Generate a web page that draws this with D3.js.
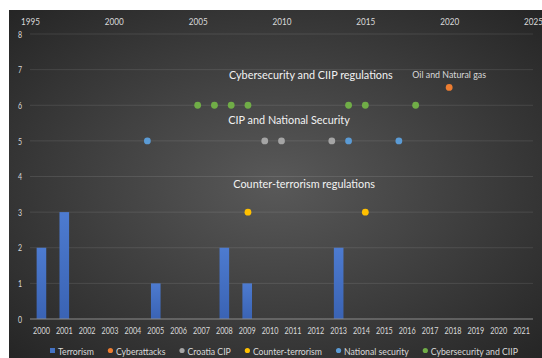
<!DOCTYPE html>
<html>
<head>
<meta charset="utf-8">
<script src="https://cdn.jsdelivr.net/npm/d3@7"></script>
<style>
  html, body { margin: 0; padding: 0; background: #ffffff; }
  svg { display: block; font-family: Lato, "Open Sans", sans-serif; }
</style>
</head>
<body>
<svg id="chart" width="542" height="358"></svg>
<script>
// ---- data ----
const years = ["2000","2001","2002","2003","2004","2005","2006","2007","2008","2009","2010",
               "2011","2012","2013","2014","2015","2016","2017","2018","2019","2020","2021"];
const terrorism = [2,3,0,0,0,1,0,0,2,1,0,0,0,2,0,0,0,0,0,0,0,0];

// point series placed on the secondary (top) year axis
const cyberattacksYears = [2020];
const cyberattacksLevel = [6.5];
const croatiaCipYears = [2009, 2010, 2013];
const croatiaCipLevel = [5, 5, 5];
const counterTerrorismYears = [2008, 2015];
const counterTerrorismLevel = [3, 3];
const nationalSecurityYears = [2002, 2014, 2017];
const nationalSecurityLevel = [5, 5, 5];
const cyberCiipYears = [2005, 2006, 2007, 2008, 2014, 2015, 2018];
const cyberCiipLevel = [6, 6, 6, 6, 6, 6, 6];

const topTicks = [1995, 2000, 2005, 2010, 2015, 2020, 2025];
const yTicks = [0, 1, 2, 3, 4, 5, 6, 7, 8];

const seriesNames = ["Terrorism", "Cyberattacks", "Croatia CIP", "Counter-terrorism",
                     "National security", "Cybersecurity and CIIP"];

const annotationText = ["Cybersecurity and CIIP regulations", "CIP and National Security",
                        "Counter-terrorism regulations", "Oil and Natural gas"];

// ---- style / layout ----
const colors = {
  "Terrorism": "#4472C4",
  "Cyberattacks": "#ED7D31",
  "Croatia CIP": "#A5A5A5",
  "Counter-terrorism": "#FFC000",
  "National security": "#5B9BD5",
  "Cybersecurity and CIIP": "#70AD47"
};
const W = 542, H = 358;
const plot = { left: 30, right: 533, top: 34, bottom: 319 };
const textColor = "#d9d9d9";

const svg = d3.select("#chart");
const defs = svg.append("defs");

const bg = defs.append("radialGradient").attr("id", "bg")
  .attr("cx", "50%").attr("cy", "50%").attr("r", "72%");
bg.append("stop").attr("offset", "0%").attr("stop-color", "#595959");
bg.append("stop").attr("offset", "100%").attr("stop-color", "#242424");

const barGrad = defs.append("linearGradient").attr("id", "barGrad")
  .attr("x1", 0).attr("y1", 0).attr("x2", 0).attr("y2", 1);
barGrad.append("stop").attr("offset", "0%").attr("stop-color", "#4d7bd0");
barGrad.append("stop").attr("offset", "100%").attr("stop-color", "#3a63b4");

svg.append("rect").attr("x", 9).attr("y", 10).attr("width", W - 9).attr("height", H - 10)
  .attr("fill", "url(#bg)");

// ---- scales ----
const x = d3.scaleBand().domain(years).range([plot.left, plot.right])
  .paddingInner(0.58).paddingOuter(0.29);
const x2 = d3.scaleLinear().domain([1995, 2025]).range([plot.left, plot.right]);
const y = d3.scaleLinear().domain([0, 8]).range([plot.bottom, plot.top]);

// ---- gridlines ----
svg.append("g").selectAll("line").data(yTicks.filter(d => d > 0)).join("line")
  .attr("x1", plot.left).attr("x2", plot.right)
  .attr("y1", d => y(d)).attr("y2", d => y(d))
  .attr("stroke", "#ffffff").attr("stroke-opacity", 0.1).attr("stroke-width", 1);

// ---- bars ----
svg.append("g").selectAll("rect").data(years.map((yr, i) => ({ yr, v: terrorism[i] })).filter(d => d.v > 0))
  .join("rect")
  .attr("x", d => x(d.yr)).attr("width", x.bandwidth())
  .attr("y", d => y(d.v)).attr("height", d => y(0) - y(d.v))
  .attr("fill", "url(#barGrad)");

// zero line
svg.append("line").attr("x1", plot.left).attr("x2", plot.right)
  .attr("y1", y(0)).attr("y2", y(0))
  .attr("stroke", "#8c8c8c").attr("stroke-width", 1.2);

// ---- axes ----
const sqDigits = 0.74;   // narrow digit style
const sqTop = 0.86;
const sqText = 0.92;
const sqLegend = 0.87;

const bottomAxis = svg.append("g").attr("transform", `translate(0,${y(0)})`)
  .call(d3.axisBottom(x).tickSize(0));
bottomAxis.select(".domain").remove();
bottomAxis.selectAll("text").attr("y", 15).attr("dy", null)
  .attr("fill", textColor).attr("font-size", 9.8).attr("font-family", "Lato")
  .attr("transform", `scale(${sqDigits},1)`);

const topAxis = svg.append("g").attr("transform", `translate(0,${plot.top})`)
  .call(d3.axisTop(x2).tickValues(topTicks).tickFormat(d3.format("d")).tickSize(0));
topAxis.select(".domain").remove();
topAxis.selectAll("text").attr("y", -9).attr("dy", null)
  .attr("fill", textColor).attr("font-size", 9.5).attr("font-family", "Lato")
  .attr("transform", `scale(${sqTop},1)`);

const leftAxis = svg.append("g").attr("transform", `translate(${plot.left},0)`)
  .call(d3.axisLeft(y).tickValues(yTicks).tickFormat(d3.format("d")).tickSize(0));
leftAxis.select(".domain").remove();
leftAxis.selectAll("text").attr("x", -8 / sqDigits).attr("dy", "0.34em")
  .attr("fill", textColor).attr("font-size", 9.5).attr("font-family", "Lato")
  .attr("transform", `scale(${sqDigits},1)`);

// ---- point series ----
const pointSeries = [
  { name: "Cyberattacks", xs: cyberattacksYears, ys: cyberattacksLevel },
  { name: "Croatia CIP", xs: croatiaCipYears, ys: croatiaCipLevel },
  { name: "Counter-terrorism", xs: counterTerrorismYears, ys: counterTerrorismLevel },
  { name: "National security", xs: nationalSecurityYears, ys: nationalSecurityLevel },
  { name: "Cybersecurity and CIIP", xs: cyberCiipYears, ys: cyberCiipLevel }
];
pointSeries.forEach(s => {
  svg.append("g").selectAll("circle").data(s.xs.map((v, i) => [v, s.ys[i]])).join("circle")
    .attr("cx", d => x2(d[0])).attr("cy", d => y(d[1])).attr("r", 3.4)
    .attr("fill", colors[s.name]);
});

// ---- annotations (centre year on top axis, baseline level on value axis) ----
const annotationPos = [
  { cx: 2011.75, lvl: 6.74, size: 11.8, color: "#f2f2f2" },
  { cx: 2010.45, lvl: 5.48, size: 11.8, color: "#f2f2f2" },
  { cx: 2011.35, lvl: 3.69, size: 11.8, color: "#f2f2f2" },
  { cx: 2020.0, lvl: 6.77, size: 9.6, color: "#d9d9d9" }
];
annotationText.forEach((t, i) => {
  const p = annotationPos[i];
  svg.append("text")
    .attr("transform", `translate(${x2(p.cx)},${y(p.lvl)}) scale(${sqText},1)`)
    .attr("text-anchor", "middle").attr("font-size", p.size).attr("fill", p.color)
    .text(t);
});

// ---- legend ----
const legend = svg.append("g");
const legendY = 355;
let cursor = 0;
seriesNames.forEach((name, i) => {
  const g = legend.append("g");
  if (i === 0) {
    g.append("rect").attr("x", cursor).attr("y", legendY - 7).attr("width", 5).attr("height", 5)
      .attr("fill", colors[name]);
  } else {
    g.append("circle").attr("cx", cursor + 2.5).attr("cy", legendY - 4.5).attr("r", 2.6)
      .attr("fill", colors[name]);
  }
  const tx = g.append("text").attr("font-size", 10).attr("fill", textColor).text(name);
  const w = tx.node().getComputedTextLength() * sqLegend;
  tx.attr("transform", `translate(${cursor + 8},${legendY}) scale(${sqLegend},1)`);
  cursor += 8 + w + 14;
});
const legendWidth = cursor - 14;
legend.attr("transform", `translate(${284 - legendWidth / 2},0)`);
</script>
</body>
</html>
